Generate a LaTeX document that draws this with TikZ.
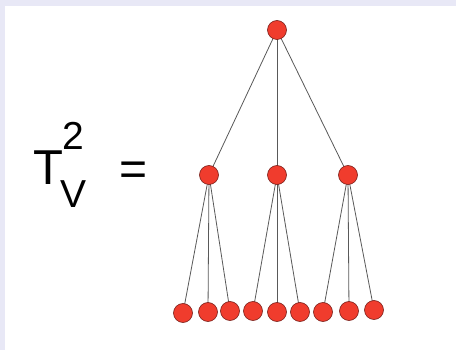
\documentclass[tikz,border=0pt]{standalone}
\usepackage{fontspec}
\setmainfont{Liberation Sans}
\usetikzlibrary{backgrounds}
\definecolor{frame}{RGB}{232,232,246}
\definecolor{ballred}{RGB}{240,60,45}
\definecolor{ballrim}{RGB}{120,30,25}
\begin{document}
\begin{tikzpicture}[
    x=1pt,y=-1pt,
    ball/.style={circle,draw=ballrim,fill=ballred,line width=0.6pt,inner sep=0pt,minimum size=19pt},
    branch/.style={draw=black!65,line width=0.8pt},
    lbl/.style={anchor=base,inner sep=0pt}
]
    \useasboundingbox (0,0) rectangle (456,350);

    \node[lbl,font=\fontsize{49}{50}\selectfont] (t) at (48,185) {T};
    \node[lbl,font=\fontsize{39}{40}\selectfont] (tsup) at (73,150) {2};
    \node[lbl,font=\fontsize{39}{40}\selectfont] (tsub) at (73.5,208) {V};
    \node[lbl,font=\fontsize{48}{50}\selectfont] (eq) at (133.5,186) {=};

    \node[ball] (root) at (277,30) {};
    \node[ball] (mid1) at (209,175) {};
    \node[ball] (mid2) at (277,175) {};
    \node[ball] (mid3) at (348,175) {};

    \node[ball] (l1) at (183,313) {};
    \node[ball] (l2) at (208,312) {};
    \node[ball] (l3) at (230,311) {};
    \node[ball] (l4) at (253,311) {};
    \node[ball] (l5) at (277,312) {};
    \node[ball] (l6) at (300,312) {};
    \node[ball] (l7) at (323,312) {};
    \node[ball] (l8) at (349,311) {};
    \node[ball] (l9) at (374,310) {};

    \begin{pgfonlayer}{background}
        \fill[frame] (0,0) rectangle (456,350);
        \fill[white] (5,6) rectangle (456,350);
        \draw[branch] (root.center) -- (mid1.center);
        \draw[branch] (root.center) -- (mid2.center);
        \draw[branch] (root.center) -- (mid3.center);
        \draw[branch] (mid1.center) -- (l1.center);
        \draw[branch] (mid1.center) -- (l2.center);
        \draw[branch] (mid1.center) -- (l3.center);
        \draw[branch] (mid2.center) -- (l4.center);
        \draw[branch] (mid2.center) -- (l5.center);
        \draw[branch] (mid2.center) -- (l6.center);
        \draw[branch] (mid3.center) -- (l7.center);
        \draw[branch] (mid3.center) -- (l8.center);
        \draw[branch] (mid3.center) -- (l9.center);
    \end{pgfonlayer}
\end{tikzpicture}
\end{document}
